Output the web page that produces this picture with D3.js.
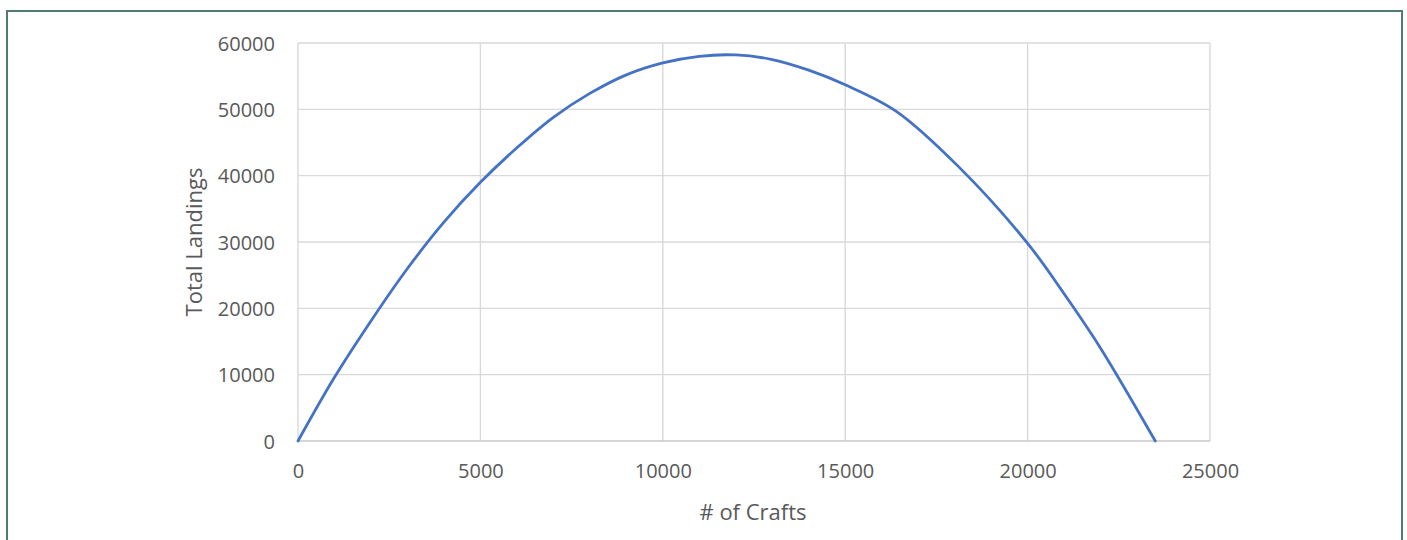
<!DOCTYPE html>
<html>
<head>
<meta charset="utf-8">
<script src="https://cdn.jsdelivr.net/npm/d3@7"></script>
<style>
  html, body { margin: 0; padding: 0; background: #ffffff; }
  svg { display: block; }
</style>
</head>
<body>
<svg id="chart" width="1407" height="540"></svg>
<script>
// Number of crafts (fishing effort) and the resulting total landings
const crafts   = [0, 1000, 2000, 3000, 4000, 5000, 6000, 7000, 8000, 9000, 10000,
                  11000, 12000, 13000, 14000, 15000, 16400, 18100, 20000, 21000, 22000, 23500];
const landings = [0, 9600, 18100, 26000, 33000, 39000, 44200, 48800, 52400, 55200, 57000,
                  58000, 58200, 57500, 55900, 53700, 49700, 41400, 29800, 22200, 14000, 0];

const xTicks = [0, 5000, 10000, 15000, 20000, 25000];
const yTicks = [0, 10000, 20000, 30000, 40000, 50000, 60000];

const xTitle = "# of Crafts";
const yTitle = "Total Landings";

const svg = d3.select("#chart");
const plot = { left: 298, right: 1210, top: 43, bottom: 441 };

const font = "'Open Sans', 'Noto Sans', sans-serif";
const textColor = "#595959";
const gridColor = "#d9d9d9";

// outer frame (bottom edge runs past the visible area)
svg.append("rect")
  .attr("x", 7).attr("y", 11)
  .attr("width", 1395).attr("height", 560)
  .attr("fill", "#ffffff")
  .attr("stroke", "#4f7b72")
  .attr("stroke-width", 2);

const x = d3.scaleLinear().domain([0, 25000]).range([plot.left, plot.right]);
const y = d3.scaleLinear().domain([0, 60000]).range([plot.bottom, plot.top]);

// vertical grid lines
svg.append("g")
  .selectAll("line")
  .data(xTicks)
  .join("line")
  .attr("x1", d => x(d)).attr("x2", d => x(d))
  .attr("y1", plot.top).attr("y2", plot.bottom)
  .attr("stroke", gridColor).attr("stroke-width", 1.4);

// horizontal grid lines
svg.append("g")
  .selectAll("line")
  .data(yTicks)
  .join("line")
  .attr("x1", plot.left).attr("x2", plot.right)
  .attr("y1", d => y(d)).attr("y2", d => y(d))
  .attr("stroke", d => d === 0 ? "#c8c8c8" : gridColor)
  .attr("stroke-width", 1.4);

// x axis tick labels
const xAxis = d3.axisBottom(x).tickValues(xTicks).tickSize(0).tickPadding(0)
  .tickFormat(d3.format("d"));
const gx = svg.append("g")
  .attr("transform", `translate(0,${plot.bottom})`)
  .call(xAxis);
gx.select(".domain").remove();
gx.selectAll("text")
  .attr("y", 37).attr("dy", "0")
  .attr("font-family", font).attr("font-size", 20)
  .attr("fill", textColor);

// y axis tick labels
const yAxis = d3.axisLeft(y).tickValues(yTicks).tickSize(0).tickPadding(0)
  .tickFormat(d3.format("d"));
const gy = svg.append("g")
  .attr("transform", `translate(${plot.left},0)`)
  .call(yAxis);
gy.select(".domain").remove();
gy.selectAll("text")
  .attr("x", -23).attr("dy", "0.35em")
  .attr("font-family", font).attr("font-size", 20)
  .attr("fill", textColor);

// the landings curve
const line = d3.line()
  .x((d, i) => x(crafts[i]))
  .y(d => y(d))
  .curve(d3.curveCatmullRom.alpha(0.5));

svg.append("path")
  .datum(landings)
  .attr("d", line)
  .attr("fill", "none")
  .attr("stroke", "#4472c4")
  .attr("stroke-width", 2.8)
  .attr("stroke-linejoin", "round")
  .attr("stroke-linecap", "round");

// axis titles
svg.append("text")
  .attr("x", (plot.left + plot.right) / 2 - 1)
  .attr("y", 520)
  .attr("text-anchor", "middle")
  .attr("font-family", font).attr("font-size", 22)
  .attr("fill", textColor)
  .text(xTitle);

svg.append("text")
  .attr("transform", `translate(202,${(plot.top + plot.bottom) / 2}) rotate(-90)`)
  .attr("text-anchor", "middle")
  .attr("font-family", font).attr("font-size", 22)
  .attr("fill", textColor)
  .text(yTitle);
</script>
</body>
</html>
